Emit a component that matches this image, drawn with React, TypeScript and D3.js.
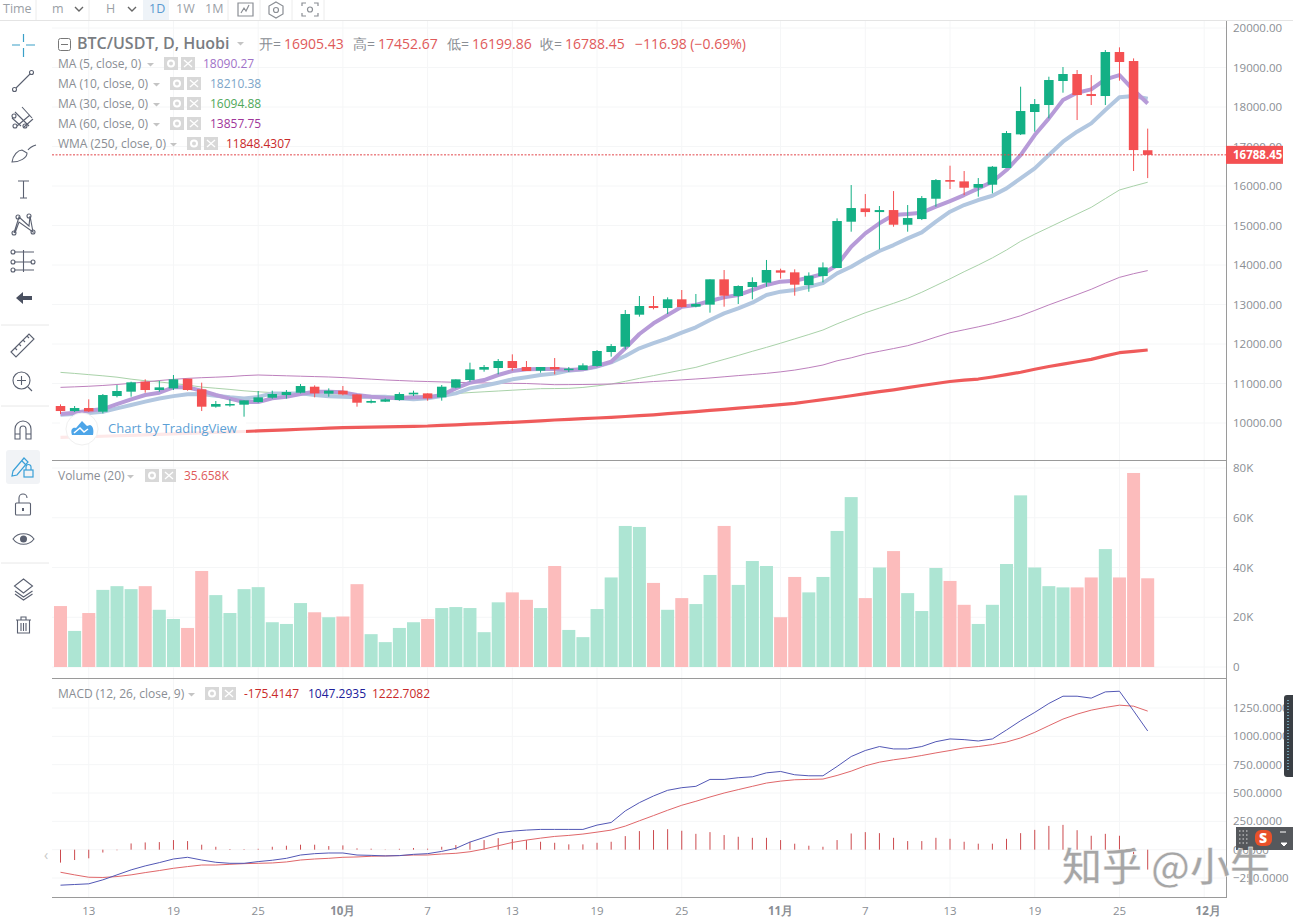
import React from "react";
import * as d3 from "d3";

// ---- data (one entry per trading day, 11 Sep -> 27 Nov) ----
const opens = [10430,10303,10379,10286,10683,10793,11046,10835,10877,11122,10852,10413,10464,10464,10531,10641,10708,10767,10919,10742,10818,10725,10514,10540,10582,10725,10750,10649,10894,11088,11350,11392,11569,11417,11325,11417,11358,11341,11443,11797,11932,12742,12962,12911,13131,12945,12996,13637,13215,13443,13553,13865,13814,13492,13720,13923,15096,15433,15340,15391,15020,15163,15678,16151,16117,15957,16033,16455,17307,17873,18050,18658,18835,18328,18278,19392,19164,16905.43];
const closes = [10303,10379,10295,10708,10810,11029,10835,10902,11105,10835,10413,10481,10481,10573,10649,10734,10784,10936,10750,10818,10725,10514,10557,10599,10734,10767,10624,10919,11105,11358,11417,11569,11392,11316,11417,11358,11375,11460,11823,11949,12759,12962,12911,13131,12937,13013,13637,13223,13468,13570,13873,13806,13502,13728,13940,15113,15442,15340,15391,15020,15189,15695,16151,16109,15957,16050,16488,17341,17898,18075,18683,18835,18303,18278,19392,19139,16910,16788.45];
const highs = [10472,10430,10599,10734,10962,11046,11105,11071,11215,11122,11021,10557,10599,10573,10810,10818,10835,10987,10953,10877,10936,10725,10599,10624,10776,10818,10750,10962,11105,11527,11468,11620,11738,11569,11417,11645,11417,11510,11848,11999,12861,13215,13215,13181,13367,13266,13637,13873,13485,13688,14127,13907,13890,13813,14066,15180,16024,15796,15493,15872,15518,15746,16176,16514,16379,16201,16505,17391,18514,18202,18767,19012,18936,18809,19442,19510,19231,17452.67];
const lows = [10227,10278,10278,10244,10649,10666,10767,10793,10835,10818,10303,10388,10413,10160,10514,10616,10616,10750,10649,10666,10700,10413,10497,10531,10565,10683,10565,10565,10877,11046,11299,11232,11325,11316,11274,11232,11291,11341,11426,11679,11865,12692,12877,12759,12920,12928,12793,12945,13013,13131,13451,13654,13223,13323,13560,13923,14843,15222,14395,14969,14843,15138,15476,15923,15771,15729,15813,16455,17290,17375,17712,18362,17670,18050,18050,18666,16379,16199.86];
const volumes = [24.5,14.5,21.7,31,32.5,31.3,32.5,23,19.3,15.7,38.6,28.9,21.7,31.3,32.1,18,17.3,25.7,22,20,20.3,33.3,13.2,10,15.7,18,19.3,23.7,24.1,23.7,14,26,30,27,23.7,40.6,14.9,12,23.3,36,56.7,56.3,33.8,23,27.7,25.3,37,56.7,33,42.6,40.6,20,36.2,30,36.2,54.7,68.3,27.7,40,46.6,29.7,22.5,39.8,34.6,25,17.3,25,41.4,69,40,32.5,32,32,36,47.4,36,78,35.66];
const ma5 = [10227,10261,10312,10354,10480,10599,10708,10767,10902,10902,10818,10708,10616,10531,10531,10624,10666,10734,10793,10793,10776,10708,10666,10641,10624,10649,10649,10708,10877,11021,11088,11215,11316,11358,11367,11367,11341,11358,11443,11550,11890,12253,12523,12734,12945,12987,13088,13181,13240,13367,13494,13578,13603,13680,13771,13999,14463,14800,15055,15266,15290,15324,15476,15619,15771,15940,16109,16404,16784,17290,17712,18176,18362,18446,18700,18809,18430,18090];
const ma10 = [10210,10225,10250,10285,10371,10455,10540,10620,10680,10730,10735,10690,10650,10620,10660,10750,10750,10750,10710,10680,10665,10650,10665,10665,10625,10600,10625,10683,10750,10877,10945,11021,11105,11156,11215,11250,11325,11358,11426,11536,11696,11890,12020,12143,12287,12422,12607,12776,12903,13046,13240,13325,13367,13450,13540,13788,13956,14167,14354,14505,14674,14826,15096,15349,15518,15645,15754,15940,16193,16446,16784,17121,17375,17586,17923,18244,18278,18210];
const ma30 = [11282,11255,11225,11195,11160,11110,11070,11040,11000,10960,10910,10880,10850,10815,10790,10770,10750,10735,10725,10715,10705,10695,10690,10685,10680,10675,10690,10720,10745,10770,10790,10810,10830,10850,10869,10872,10877,10900,10940,10987,11055,11130,11200,11270,11340,11409,11510,11610,11710,11815,11915,12020,12130,12240,12354,12510,12650,12790,12910,13030,13156,13310,13480,13650,13830,14000,14180,14380,14600,14780,14950,15120,15290,15460,15680,15899,16000,16095];
const ma60 = [10902,10915,10930,10950,10975,11005,11040,11075,11105,11130,11147,11160,11175,11200,11215,11205,11195,11185,11175,11165,11150,11130,11110,11090,11075,11060,11050,11040,11030,11020,11015,11010,11005,11000,10985,10970,10972,10975,10980,10987,11005,11025,11050,11070,11092,11114,11140,11170,11200,11228,11257,11295,11340,11400,11468,11575,11650,11745,11815,11885,11957,12060,12175,12285,12360,12435,12515,12610,12715,12850,12990,13120,13250,13385,13540,13687,13780,13858];
const wma250 = [9637,9645,9655,9665,9677,9689,9700,9712,9724,9736,9748,9760,9772,9785,9800,9815,9828,9842,9855,9868,9881,9888,9895,9903,9910,9917,9924,9940,9955,9970,9986,10002,10017,10037,10056,10076,10092,10110,10126,10143,10165,10187,10208,10235,10262,10290,10318,10345,10375,10405,10435,10465,10497,10545,10590,10640,10690,10745,10793,10840,10895,10950,11000,11050,11085,11113,11165,11225,11285,11360,11430,11490,11550,11611,11700,11780,11815,11848];
const macdLine = [-313,-307,-301,-266,-222,-178,-143,-114,-82,-67,-91,-111,-120,-120,-105,-93,-76,-47,-35,-29,-29,-47,-50,-55,-52,-41,-35,-15,12,67,108,149,164,173,179,179,179,179,217,240,342,415,474,524,547,559,620,620,635,643,678,690,661,652,652,734,822,875,910,889,889,910,953,977,971,959,977,1056,1138,1211,1290,1354,1354,1337,1392,1398,1225,1047.29];
const signalLine = [-199,-222,-243,-245,-237,-222,-202,-184,-164,-149,-135,-135,-129,-123,-120,-117,-108,-91,-82,-76,-67,-64,-58,-55,-52,-47,-47,-38,-32,-18,6,35,64,85,102,117,126,138,155,173,208,255,301,348,392,427,465,500,530,559,588,605,617,620,623,655,693,740,772,793,810,831,854,875,898,910,927,950,986,1035,1094,1152,1196,1231,1255,1275,1266,1222.71];
const macdHist = [-114,-91,-76,-25,-5,55,64,67,85,76,44,26,6,5,8,26,35,44,44,32,38,12,9,-3,8,15,9,26,41,70,85,102,94,85,70,61,47,47,61,70,120,164,173,181,167,140,155,129,114,105,105,85,53,35,26,85,143,155,146,105,76,76,105,96,70,53,53,96,146,175,210,219,172,123,140,123,-55,-175.41];

const priceTicks = [10000,11000,12000,13000,14000,15000,16000,17000,18000,19000,20000];
const volumeTicks = [0,20,40,60,80];
const macdTicks = [-250,0,250,500,750,1000,1250];
const dateTickDays = [2,8,14,20,26,32,38,44,51,57,63,69,75,81];
const dateTickLabels = ["13","19","25","10月","7","13","19","25","11月","7","13","19","25","12月"];

const GREEN = "#13b085";
const RED = "#f45052";
const GRAY = "#8a8e94";
const FONT = "'Open Sans','Noto Sans',sans-serif";
const LEFT = 52, RIGHT = 1226;

const x = d3.scaleLinear().domain([0, 77]).range([60.5, 1147.7]);
const yP = d3.scaleLinear().domain([10000, 20000]).range([423, 28]);
const yV = d3.scaleLinear().domain([0, 80]).range([667, 468]);
const yM = d3.scaleLinear().domain([0, 1250]).range([849.7, 708]);

const idx = (a: number[]) => a.map((v, i) => [i, v] as [number, number]);
const lineOf = (s: (v: number) => number) =>
  d3.line<[number, number]>().x((d) => x(d[0])).y((d) => s(d[1]));

const Box = ({ x0, y0 }: { x0: number; y0: number }) => (
  <g>
    <rect x={x0} y={y0} width={14} height={13} fill="#d8d8d8" />
    <circle cx={x0 + 7} cy={y0 + 6.5} r={3} fill="none" stroke="#fff" strokeWidth={2} />
    <rect x={x0 + 17} y={y0} width={14} height={13} fill="#d8d8d8" />
    <path d={`M${x0 + 20} ${y0 + 3}l8 7m0 -7l-8 7`} stroke="#fff" strokeWidth={1.3} />
  </g>
);
const Caret = ({ x0, y0 }: { x0: number; y0: number }) => (
  <path d={`M${x0} ${y0}h7l-3.5 3.5z`} fill="#c4c4c4" />
);

function Legend({ label, y0, caret, box, items }: { label: string; y0: number; caret: number; box: number; items: [string, number, string][] }) {
  return (
    <g fontFamily={FONT} fontSize={12}>
      <text x={58} y={y0} fill={GRAY}>{label}</text>
      <Caret x0={caret} y0={y0 - 5} />
      <Box x0={box} y0={y0 - 11} />
      {items.map(([t, px, c], i) => <text key={i} x={px} y={y0} fill={c}>{t}</text>)}
    </g>
  );
}

const st = { fill: "none", stroke: "#5a6070", strokeWidth: 1.1 };

function LeftBar() {
  return (
    <g>
      <g fill="none" stroke="#3aa0c8" strokeWidth={1.2}>
        <path d="M12 45h8M26 45h9M23.500 34v8M23.500 48v9" />
      </g>
      <g {...st}>
        <path d="M16 88L30 74" /><circle cx={14.500} cy={89.500} r={2} /><circle cx={31.500} cy={72.500} r={2} />
        <path d="M15 112L29 126M12 118l9 8M22 107l10 11M17 126l13-11M24 127l9-8" /><circle cx={14} cy={116} r={2} /><circle cx={15} cy={126} r={2} /><circle cx={25} cy={126} r={2} />
        <path d="M12 162c1-7 6-12 10-12l5 3c0 5-7 9-15 9zM28 150c2-3 5-4 8-5" />
        <path d="M18 181h11M23.500 181v17M20 198h7" />
        <path d="M14 233L19 217L29 226L30 216L33 232L19 222L15 233" /><circle cx={18} cy={217} r={2} /><circle cx={29} cy={216} r={2} /><circle cx={14} cy={233} r={2} /><circle cx={33} cy={232} r={2} />
        <path d="M14 252h20M14 262h18M14 270h20M23.500 250v22" /><circle cx={13} cy={252} r={2} /><circle cx={13} cy={262} r={2} /><circle cx={33} cy={262} r={2} /><circle cx={13} cy={270} r={2} />
      </g>
      <path d="M16 298l7-6v4h9v4h-9v4z" fill="#4a5060" />
      <path d="M1 325h48M1 406h48M1 563h48" stroke="#e8e8e8" />
      <g {...st}>
        <path d="M11 352L29 334l5 5L16 357z M15 348l2 2M19 344l2 2M23 340l2 2M27 336l2 2" />
        <circle cx={21.500} cy={380.500} r={8.500} /><path d="M28 387l4 4M17 380.500h9M21.500 376v9" />
        <path d="M15 439v-10a8 8 0 0 1 16 0v10h-5v-10a3 3 0 0 0-6 0v10zM15 434h5M26 434h5" />
      </g>
      <rect x={6} y={450} width={34} height={34} rx={3} fill="#f1f3f6" />
      <g fill="none" stroke="#3aa0d8" strokeWidth={1.2}>
        <path d="M13 471l11-13 4 4-11 13-5 1zM22 461l4 4" />
        <rect x={24} y={470} width={9} height={7} /><path d="M26 470v-3a2.500 2.500 0 0 1 5 0v3" />
      </g>
      <g {...st}>
        <rect x={15.500} y={503} width={15} height={12} rx={1} /><path d="M19 503v-5a4 4 0 0 1 8 0" />
      </g>
      <rect x={22} y={508} width={2} height={3} fill="#5a6070" />
      <path d="M13 539c5-7 16-7 21 0c-5 7-16 7-21 0z" {...st} />
      <circle cx={23.500} cy={539} r={3.500} fill="#5a6070" />
      <g {...st}>
        <path d="M23.500 579l9 7-9 7-9-7zM15 591l8.500 6 9-6M15 594l8.500 6 9-6" />
        <path d="M16 620h15M21 620v-3h5v3M17.500 620v13h12v-13M21 623v8M23.500 623v8M26 623v8" />
      </g>
    </g>
  );
}

function TopBar() {
  const t = { fontFamily: FONT, fontSize: 12.5, fill: "#9aa0a6" } as const;
  return (
    <g>
      <rect x={143} y={0} width={26} height={20} fill="#eef3f8" />
      <text x={3} y={13} {...t}>Time</text>
      <text x={52} y={13} {...t}>m</text>
      <text x={106} y={13} {...t}>H</text>
      <text x={149} y={13} {...t} fill="#5b9ad0">1D</text>
      <text x={176} y={13} {...t}>1W</text>
      <text x={205} y={13} {...t}>1M</text>
      <path d="M75 7l4 4 4-4M128 7l4 4 4-4" fill="none" stroke="#666" strokeWidth={1.4} />
      <g stroke="#ececec"><path d="M36 0v20M89 0v20M228 0v20M260 0v20M292 0v20M324 0v20" /></g>
      <path d="M0 20.500H1293" stroke="#e4e4e4" />
      <g fill="none" stroke="#8a8e94" strokeWidth={1.2}>
        <path d="M238 3h15v13h-15zM241 13l3-5 2 3 3-6" />
        <path d="M276 2l7 4v8l-7 4-7-4V6z" /><circle cx={276} cy={10} r={2.500} />
        <path d="M302 6V3h4M314 3h4v3M318 13v3h-4M306 16h-4v-3" /><circle cx={310} cy={9.500} r={2.500} />
      </g>
    </g>
  );
}

export default function App() {
  const lP = lineOf(yP), lM = lineOf(yM);
  const bw = 9.5;
  const vw = 13;
  const last = closes[closes.length - 1];
  const axis = { fontFamily: FONT, fontSize: 11.5, fill: GRAY } as const;
  return (
    <svg width={1293} height={918} style={{ position: "fixed", left: 0, top: 0, background: "#fff", display: "block" }}>
      {/* grid */}
      <g stroke="#f5f6f7">
        {dateTickDays.map((d, i) => <line key={i} x1={x(d)} x2={x(d)} y1={21} y2={897} />)}
        {priceTicks.map((p) => <line key={p} x1={LEFT} x2={RIGHT} y1={yP(p)} y2={yP(p)} />)}
        {volumeTicks.map((p) => <line key={p} x1={LEFT} x2={RIGHT} y1={yV(p)} y2={yV(p)} />)}
        {macdTicks.map((p) => <line key={p} x1={LEFT} x2={RIGHT} y1={yM(p)} y2={yM(p)} />)}
      </g>

      {/* overlay lines behind candles */}
      <g fill="none" strokeLinejoin="round">
        <path d={lP(idx(ma30))!} stroke="#a9d2a9" strokeWidth={1} />
        <path d={lP(idx(ma60))!} stroke="#bd80bd" strokeWidth={1} />
        <path d={lP(idx(wma250))!} stroke="#ef5b5b" strokeWidth={3.2} />
        <path d={lP(idx(ma10))!} stroke="#b2c7e0" strokeWidth={4} />
        <path d={lP(idx(ma5))!} stroke="#b79bd8" strokeWidth={4} />
      </g>

      {/* candles */}
      {closes.map((c, i) => {
        const o = opens[i];
        const col = c >= o ? GREEN : RED;
        const top = yP(Math.max(o, c));
        const h = Math.max(1.5, Math.abs(yP(o) - yP(c)));
        return (
          <g key={i}>
            <line x1={x(i)} x2={x(i)} y1={yP(highs[i])} y2={yP(lows[i])} stroke={col} strokeWidth={1} />
            <rect x={x(i) - bw / 2} y={top} width={bw} height={h} fill={col} />
          </g>
        );
      })}

      {/* last price line */}
      <line x1={LEFT} x2={RIGHT} y1={yP(last)} y2={yP(last)} stroke="#e2474b" strokeWidth={1} strokeDasharray="2 1.500" />

      {/* volume */}
      {volumes.map((v, i) => (
        <rect key={i} x={x(i) - vw / 2} y={yV(v)} width={vw} height={yV(0) - yV(v)}
          fill={closes[i] >= opens[i] ? "#ade5d3" : "#fcbcbc"} />
      ))}

      {/* macd */}
      {macdHist.map((v, i) => (
        <line key={i} x1={x(i)} x2={x(i)} y1={yM(0)} y2={yM(v)} stroke="#cc4a4e" strokeWidth={1} />
      ))}
      <path d={lM(idx(signalLine))!} fill="none" stroke="#e0676a" strokeWidth={1} />
      <path d={lM(idx(macdLine))!} fill="none" stroke="#5257b5" strokeWidth={1} />

      {/* tradingview logo */}
      <rect x={60} y={419} width={186} height={20} fill="#fff" opacity={0.86} />
      <circle cx={82} cy={429} r={16} fill="#fff" stroke="#f0f0f0" />
      <path d="M72 435c-2-6 1-8 4-7l6-7 5 5 3-1c3 1 4 5 3 10z" fill="#4da5e8" />
      <path d="M74 433l6-5 4 4 4-3" fill="none" stroke="#fff" strokeWidth={1.500} />
      <text x={108} y={433} fontFamily={FONT} fontSize={13} fill="#5ba0d6">Chart by TradingView</text>

      {/* separators and scale */}
      <g stroke="#9a9a9a">
        <line x1={LEFT} x2={RIGHT} y1={460.500} y2={460.500} />
        <line x1={LEFT} x2={RIGHT} y1={678.500} y2={678.500} />
        <line x1={LEFT} x2={RIGHT + 1} y1={897.500} y2={897.500} />
        <line x1={RIGHT + 0.500} x2={RIGHT + 0.500} y1={20} y2={898} />
      </g>
      {priceTicks.map((p) => <text key={p} x={1233} y={yP(p) + 4} {...axis}>{d3.format(".2f")(p)}</text>)}
      {volumeTicks.map((p) => <text key={p} x={1233} y={yV(p) + 4} {...axis}>{p === 0 ? "0" : p + "K"}</text>)}
      {macdTicks.map((p) => <text key={p} x={1233} y={yM(p) + 4} {...axis}>{d3.format(".4f")(p).replace("-", "−")}</text>)}
      {dateTickDays.map((d, i) => (
        <text key={i} x={x(d) + (i === 13 ? 4 : 0)} y={915} textAnchor="middle" {...axis}
          fontWeight={dateTickLabels[i].includes("月") ? 700 : 400}>{dateTickLabels[i]}</text>
      ))}
      <rect x={RIGHT} y={yP(last) - 9} width={57} height={18} fill={RED} />
      <text x={1233} y={yP(last) + 4} fontFamily={FONT} fontSize={11.500} fontWeight={700} fill="#fff">{d3.format(".2f")(last)}</text>

      {/* header legend */}
      <rect x={58.500} y={38.500} width={12} height={12} rx={2} fill="none" stroke="#777" />
      <path d="M61 44.500h7" stroke="#777" />
      <g fontFamily={FONT} fontSize={14}>
        <text x={77} y={49} fontSize={16} fontWeight={600} fill="#7a7d82">BTC/USDT, D, Huobi</text>
        <text x={259} y={49} fill={GRAY}>开=</text><text x={284} y={49} fill="#e05a5a">{d3.format(".2f")(opens[77])}</text>
        <text x={353} y={49} fill={GRAY}>高=</text><text x={378} y={49} fill="#e05a5a">{d3.format(".2f")(highs[77])}</text>
        <text x={447} y={49} fill={GRAY}>低=</text><text x={472} y={49} fill="#e05a5a">{d3.format(".2f")(lows[77])}</text>
        <text x={540} y={49} fill={GRAY}>收=</text><text x={565} y={49} fill="#e05a5a">{d3.format(".2f")(last)}</text>
        <text x={635} y={49} fill="#e05a5a">−116.98 (−0.69%)</text>
      </g>
      <Caret x0={237} y0={42} />
      <Legend label="MA (5, close, 0)" y0={68} caret={147} box={164} items={[["18090.27", 203, "#9f72c8"]]} />
      <Legend label="MA (10, close, 0)" y0={88} caret={153} box={170} items={[["18210.38", 210, "#7da5c8"]]} />
      <Legend label="MA (30, close, 0)" y0={108} caret={153} box={170} items={[["16094.88", 210, "#4fa85a"]]} />
      <Legend label="MA (60, close, 0)" y0={128} caret={153} box={170} items={[["13857.75", 210, "#a0369a"]]} />
      <Legend label="WMA (250, close, 0)" y0={148} caret={170} box={187} items={[["11848.4307", 226, "#c92a2a"]]} />
      <Legend label="Volume (20)" y0={480} caret={127} box={145} items={[["35.658K", 184, "#e05a5a"]]} />
      <Legend label="MACD (12, 26, close, 9)" y0={698} caret={188} box={205} items={[["-175.4147", 244, "#c92a2a"], ["1047.2935", 308, "#20209a"], ["1222.7082", 372, "#c92a2a"]]} />
      <text x={44} y={860} fontFamily={FONT} fontSize={14} fill="#c8c8c8">‹</text>

      {/* desktop widgets and watermark */}
      <rect x={1284} y={695} width={12} height={82} rx={3} fill="#3a3f45" />
      <path d="M1288 700v72" stroke="#6f9fb0" strokeWidth={2} strokeDasharray="1 2" />
      <rect x={1236} y={827} width={57} height={23} fill="#55585c" />
      <path d="M1239 831h9M1239 835h9M1239 839h9M1239 843h9" stroke="#ddd" strokeDasharray="1.500 2" />
      <rect x={1255} y={830} width={17} height={16} rx={6} fill="#e8512a" />
      <text x={1259} y={843} fontFamily={FONT} fontSize={14} fontWeight={800} fill="#fff">S</text>
      <path d="M1280 832h6M1281 843h6l-3 3z" stroke="#fff" fill="#fff" />
      <text x={1062} y={881} fontFamily="'Noto Sans CJK SC','Noto Sans',sans-serif" fontSize={40} fontWeight={500} fill="#a6a6a6" stroke="#fff" strokeWidth={0.4}>知乎 @小牛</text>

      <LeftBar />
      <TopBar />
    </svg>
  );
}
